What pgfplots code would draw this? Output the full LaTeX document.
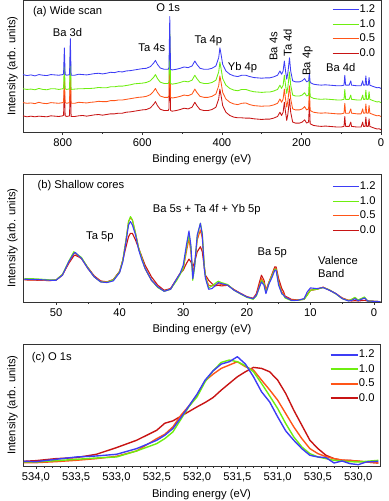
\documentclass[border=0pt]{standalone}
\usepackage{fontspec}
\setmainfont{Liberation Sans}
\usepackage{pgfplots}
\pgfplotsset{compat=1.18}
\usepackage{pgfplotstable}

\definecolor{cb}{HTML}{3D3DF5}
\definecolor{cg}{HTML}{6EEE10}
\definecolor{co}{HTML}{FF5518}
\definecolor{cr}{HTML}{C81414}

% (a) wide scan, heights in arbitrary units (curves offset)
\pgfplotstableread{
x b g o r
900 174 131 89 49
890 171 129 87 46
880 173 130 88 48
870 170 128 86 46
860 174 132 90 48
850 172 129 87 47
840 171 128 86 46
830 174 131 89 49
820 173 131 88 48
810 172 129 87 47
800 174 131 89 49
798 176 133 91 51
796 255 212 170 130
794 174 131 89 49
790 172 129 87 47
783 174 131 89 49
781 283 240 198 158
779 172 129 87 47
770 172 130 87 47
760 175 131 90 49
750 174 131 89 50
740 173 132 88 48
730 175 132 90 50
720 177 133 91 52
710 178 135 93 53
700 176 134 92 51
690 178 134 92 53
680 181 137 95 55
670 180 137 95 55
660 183 139 97 57
650 182 139 97 57
640 185 141 99 60
630 186 143 101 61
620 188 146 103 63
610 190 147 105 65
600 192 148 106 67
590 193 150 108 68
580 198 155 113 73
572 208 165 123 83
567 217 174 132 92
562 205 162 120 80
555 194 151 109 69
545 190 147 105 65
535 190 147 105 65
533 195 152 110 70
531 350 307 265 225
529 190 147 105 65
525 188 145 103 63
515 190 147 105 65
505 193 150 108 68
495 197 154 112 72
485 195 152 110 70
475 200 157 115 75
468 215 172 130 90
463 205 162 120 80
455 193 150 108 68
445 190 147 105 65
435 190 147 105 65
425 193 150 108 68
415 200 157 115 75
408 225 182 140 100
405 255 212 170 130
402 235 192 150 110
398 205 162 120 80
390 185 142 100 60
380 175 132 90 50
370 170 127 85 45
360 168 125 83 43
350 172 129 87 43
340 172 129 88 42
330 168 125 83 42
320 165 122 80 40
310 164 121 79 39
300 163 120 78 38
290 164 121 79 39
280 164 121 79 39
270 167 124 82 42
260 172 129 87 47
254 185 142 100 60
250 175 132 90 50
246 185 142 100 60
243 215 172 130 90
240 185 142 100 60
237 160 117 75 35
234 180 137 95 55
230 225 182 140 100
227 185 142 100 60
222 155 112 70 30
215 152 109 67 27
205 152 109 67 27
198 155 112 70 30
192 162 119 77 37
187 152 109 67 27
182 155 112 70 30
180 178 170 130 88
178 150 107 65 25
170 145 102 60 20
160 143 100 58 18
150 142 99 57 17
140 143 100 58 18
130 142 99 57 17
120 141 98 56 16
110 140 97 55 15
100 140 97 55 15
93 142 99 57 17
91 172 129 87 47
89 142 99 57 17
80 142 99 57 17
76 155 112 70 30
74 142 99 57 17
60 140 97 55 15
50 140 97 55 15
46 155 112 70 30
44 142 99 57 17
40 142 99 57 17
38 170 127 85 45
36 142 99 57 17
32 142 99 57 17
30 165 122 80 40
28 142 99 57 17
20 138 95 53 13
10 134 91 49 9
5 135 92 50 10
0 132 89 47 7
}\widescan

% (b) shallow cores
\pgfplotstableread{
x b g o r
55 68 70 67 66
53 67 69 66 65
51 65 66 64 64
50 65 66 65 66
49 80 82 80 82
48 120 122 118 115
47.2 145 150 146 138
47 148 147 145 140
46 130 133 130 130
45 100 102 100 103
44 75 75 75 78
43 60 60 61 63
42 58 59 60 60
41 63 66 65 67
40 88 90 90 92
39.5 120 125 125 125
39 180 185 185 165
38.6 230 240 240 195
38.3 240 255 252 205
38 230 245 245 205
37.5 200 205 205 185
37 155 160 160 160
36.5 125 130 130 135
36 100 100 100 110
35 65 65 65 75
34 45 43 45 50
33 32 32 33 35
32 38 38 38 40
31 70 65 68 70
30.5 85 82 85 85
30 110 100 100 95
29.5 170 160 150 115
29.1 212 200 188 128
28.8 170 165 150 120
28.5 70 65 85 105
28.2 110 105 115 120
27.8 200 195 185 150
27.3 235 235 215 165
27 200 205 190 150
26.7 100 110 110 105
26.5 70 75 75 80
26 38 42 50 65
25.5 40 48 48 55
25 48 55 50 48
24.5 58 62 55 50
24 55 58 52 48
23 50 52 50 50
22 35 35 36 37
21 25 24 25 26
20 15 14 15 16
19 10 8 10 11
18.5 20 18 22 25
18 45 45 50 60
17.7 60 65 70 80
17.3 50 55 58 65
17 25 28 32 35
16.5 55 58 60 60
16 75 80 82 85
15.6 95 98 100 105
15.4 95 98 100 105
15 50 55 60 70
14.5 25 25 30 40
14.2 20 20 25 30
14 15 12 15 18
13 5 4 6 8
12 5 5 6 6
11 10 8 9 8
10.5 30 20 22 22
10 42 35 35 35
9 40 38 38 38
8 43 43 44 44
7 35 36 36 35
6 25 24 25 25
5 10 10 11 12
4 3 4 5 5
3.5 5 8 8 3
3 10 14 12 4
2.5 4 6 5 3
1.5 12 15 12 5
1 3 3 4 3
0 2 2 2 2
-1 1 1 1 1
}\shallow

% (c) O 1s
\pgfplotstableread{
x b g o r
534.15 14 12 10 14
534.0 13 12 10 16
533.75 20 16 13 22
533.5 27 20 17 25
533.25 30 24 22 35
533.0 35 27 29 55
532.75 52 45 45 77
532.5 77 67 82 107
532.4 92 82 95 128
532.3 112 102 117 135
532.2 145 140 152 149
532.1 180 178 180 163
532.0 215 207 212 177
531.9 257 252 255 190
531.8 285 285 275 205
531.7 305 310 292 227
531.6 312 317 302 247
531.5 327 312 312 267
531.4 305 300 297 282
531.3 267 282 287 295
531.2 222 247 257 292
531.1 192 210 228 282
531.0 147 172 197 257
530.9 105 127 157 217
530.8 77 87 117 167
530.7 52 57 82 122
530.6 32 37 52 77
530.5 27 27 37 52
530.4 25 22 28 32
530.3 9 17 22 22
530.2 15 15 18 17
530.1 7 13 16 17
530.0 4 12 15 14
529.9 12 14 12 12
529.75 14 17 9 9
}\oxygen

\pgfplotsset{
  panel/.style={
    scale only axis, anchor=south west, x dir=reverse,
    ymin=0, ytick=\empty,
    axis line style={black!80, line width=0.8bp},
    xtick pos=left, tick align=outside,
    major tick length=3bp, minor tick length=1.8bp,
    tick style={black!80, line width=0.6bp},
    /pgf/number format/assume math mode=true,
    xlabel={Binding energy (eV)},
    ylabel={Intensity (arb. units)},
    every axis y label/.style={at={(axis description cs:-0.014,0.5)}, rotate=90, anchor=south, inner sep=0pt},
    legend cell align=left,
    legend style={draw=none, fill=none, anchor=north east, row sep=3.5bp,
      nodes={inner sep=0.5bp, text height=8bp, text depth=2bp}},
    legend image code/.code={\draw[##1] (0bp,0bp) -- (26bp,0bp);},
    every axis plot/.append style={no markers, line join=round, forget plot},
  }
}

\begin{document}
\fontsize{11.2bp}{13bp}\selectfont
\begin{tikzpicture}
\useasboundingbox (0,0) rectangle (389bp,501bp);

% ---------- (a) wide scan
\begin{axis}[panel, at={(23bp,369bp)}, width=358bp, height=132bp,
  xmin=0, xmax=900, ymax=400,
  xtick={0,200,...,800}, minor tick num=1,
  legend style={at={(0.994,0.985)}},
  every axis plot/.append style={line width=0.85bp}]
\addplot[cr] table[x=x, y=r] {\widescan};
\addplot[co] table[x=x, y=o] {\widescan};
\addplot[cg] table[x=x, y=g] {\widescan};
\addplot[cb] table[x=x, y=b] {\widescan};
\addlegendimage{cb, line width=1.1bp}\addlegendentry{1.2}
\addlegendimage{cg, line width=1.1bp}\addlegendentry{1.0}
\addlegendimage{co, line width=1.1bp}\addlegendentry{0.5}
\addlegendimage{cr, line width=1.1bp}\addlegendentry{0.0}
\node[anchor=west] at (rel axis cs:0.017,0.91) {(a) Wide scan};
\node at (axis cs:788,303) {Ba 3d};
\node at (axis cs:535,378) {O 1s};
\node at (axis cs:576,255) {Ta 4s};
\node at (axis cs:434,275) {Ta 4p};
\node at (axis cs:348,195) {Yb 4p};
\node[rotate=90] at (axis cs:270,260) {Ba 4s};
\node[rotate=90] at (axis cs:235,270) {Ta 4d};
\node[rotate=90] at (axis cs:184,215) {Ba 4p};
\node at (axis cs:101,195) {Ba 4d};
\end{axis}

% ---------- (b) shallow cores
\begin{axis}[panel, at={(23bp,199bp)}, width=358bp, height=128bp,
  xmin=-1.1, xmax=55.2, ymax=382,
  xtick={0,10,...,50}, minor tick num=1,
  legend style={at={(0.995,0.96)}},
  every axis plot/.append style={line width=1.1bp}]
\addplot[cr] table[x=x, y=r] {\shallow};
\addplot[co] table[x=x, y=o] {\shallow};
\addplot[cg] table[x=x, y=g] {\shallow};
\addplot[cb] table[x=x, y=b] {\shallow};
\addlegendimage{cb, line width=1.3bp}\addlegendentry{1.2}
\addlegendimage{cg, line width=1.3bp}\addlegendentry{1.0}
\addlegendimage{co, line width=1.3bp}\addlegendentry{0.5}
\addlegendimage{cr, line width=1.3bp}\addlegendentry{0.0}
\node[anchor=west] at (rel axis cs:0.03,0.906) {(b) Shallow cores};
\node at (axis cs:43.1,195) {Ta 5p};
\node at (axis cs:26.3,277) {Ba 5s + Ta 4f + Yb 5p};
\node at (axis cs:16,148) {Ba 5p};
\node[anchor=west, align=left] at (axis cs:9.4,105) {Valence\\Band};
\end{axis}

% ---------- (c) O 1s
\begin{axis}[panel, at={(23bp,35bp)}, width=357bp, height=122bp,
  xmin=529.73, xmax=534.16, ymax=365,
  xtick={530,530.5,...,534}, minor tick num=4,
  xticklabel style={/pgf/number format/.cd, fixed, fixed zerofill, precision=1, use comma},
  legend style={at={(0.995,0.975)}},
  legend image code/.code={\draw[#1] (0bp,0bp) -- (27bp,0bp);},
  every axis plot/.append style={line width=1.4bp}]
\addplot[cr] table[x=x, y=r] {\oxygen};
\addplot[co] table[x=x, y=o] {\oxygen};
\addplot[cg] table[x=x, y=g] {\oxygen};
\addplot[cb] table[x=x, y=b] {\oxygen};
\addlegendimage{cb, line width=1.6bp}\addlegendentry{1.2}
\addlegendimage{cg, line width=1.6bp}\addlegendentry{1.0}
\addlegendimage{co, line width=1.6bp}\addlegendentry{0.5}
\addlegendimage{cr, line width=1.6bp}\addlegendentry{0.0}
\node[anchor=west] at (rel axis cs:0.014,0.885) {(c) O 1s};
\end{axis}
\end{tikzpicture}
\end{document}
